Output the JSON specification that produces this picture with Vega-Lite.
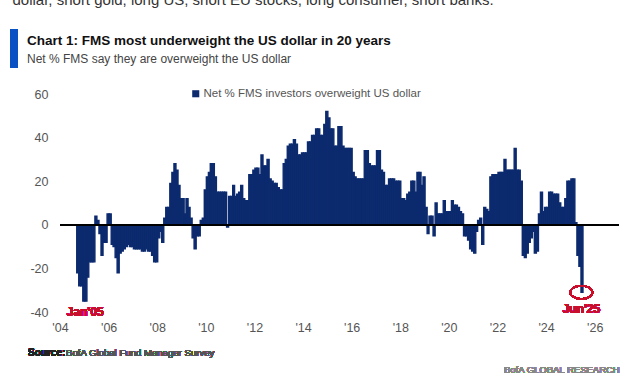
{
  "$schema": "https://vega.github.io/schema/vega-lite/v6.json",
  "width": 559,
  "height": 218,
  "autosize": {"type": "none"},
  "padding": {"left": 60, "top": 94, "right": 21, "bottom": 67},
  "background": "white",
  "config": {"view": {"stroke": null}, "font": "Liberation Sans"},
  "title": {
    "text": "Chart 1: FMS most underweight the US dollar in 20 years",
    "subtitle": "Net % FMS say they are overweight the US dollar",
    "anchor": "start",
    "frame": "group",
    "dx": -33,
    "offset": -73,
    "font": "Liberation Sans",
    "fontSize": 13.5,
    "fontWeight": "bold",
    "color": "#111111",
    "subtitleFont": "Liberation Sans",
    "subtitleFontSize": 12,
    "subtitleColor": "#444444",
    "subtitlePadding": 7
  },
  "data": {"values": [
    {"date":"2004-09-01","value":-22},{"date":"2004-10-01","value":-28},{"date":"2004-11-01","value":-28},{"date":"2004-12-01","value":-35},
    {"date":"2005-01-01","value":-35},{"date":"2005-02-01","value":-24},{"date":"2005-03-01","value":-17},{"date":"2005-04-01","value":-17},{"date":"2005-05-01","value":-17},{"date":"2005-06-01","value":4},{"date":"2005-07-01","value":2},{"date":"2005-08-01","value":-4},{"date":"2005-09-01","value":-14},{"date":"2005-10-01","value":-8},{"date":"2005-11-01","value":-8},{"date":"2005-12-01","value":5},
    {"date":"2006-01-01","value":5},{"date":"2006-02-01","value":-9},{"date":"2006-03-01","value":-10},{"date":"2006-04-01","value":-15},{"date":"2006-05-01","value":-22},{"date":"2006-06-01","value":-13},{"date":"2006-07-01","value":-12},{"date":"2006-08-01","value":-11},{"date":"2006-09-01","value":-10},{"date":"2006-10-01","value":-9},{"date":"2006-11-01","value":-10},{"date":"2006-12-01","value":-10},
    {"date":"2007-01-01","value":-11},{"date":"2007-02-01","value":-11},{"date":"2007-03-01","value":-11},{"date":"2007-04-01","value":-11},{"date":"2007-05-01","value":-12},{"date":"2007-06-01","value":-12},{"date":"2007-07-01","value":-11},{"date":"2007-08-01","value":-12},{"date":"2007-09-01","value":-12},{"date":"2007-10-01","value":-14},{"date":"2007-11-01","value":-17},{"date":"2007-12-01","value":-17},
    {"date":"2008-01-01","value":-6},{"date":"2008-02-01","value":-3},{"date":"2008-03-01","value":-8},{"date":"2008-04-01","value":3},{"date":"2008-05-01","value":8},{"date":"2008-06-01","value":8},{"date":"2008-07-01","value":19},{"date":"2008-08-01","value":24},{"date":"2008-09-01","value":28},{"date":"2008-10-01","value":25},{"date":"2008-11-01","value":18},{"date":"2008-12-01","value":12},
    {"date":"2009-01-01","value":12},{"date":"2009-02-01","value":5},{"date":"2009-03-01","value":12},{"date":"2009-04-01","value":8},{"date":"2009-05-01","value":3},{"date":"2009-06-01","value":-6},{"date":"2009-07-01","value":-11},{"date":"2009-08-01","value":-5},{"date":"2009-09-01","value":-5},{"date":"2009-10-01","value":2},{"date":"2009-11-01","value":3},{"date":"2009-12-01","value":16},
    {"date":"2010-01-01","value":22},{"date":"2010-02-01","value":24},{"date":"2010-03-01","value":28},{"date":"2010-04-01","value":28},{"date":"2010-05-01","value":22},{"date":"2010-06-01","value":15},{"date":"2010-07-01","value":15},{"date":"2010-08-01","value":15},{"date":"2010-09-01","value":15},{"date":"2010-10-01","value":15},{"date":"2010-11-01","value":-1},{"date":"2010-12-01","value":13},
    {"date":"2011-01-01","value":13},{"date":"2011-02-01","value":18},{"date":"2011-03-01","value":13},{"date":"2011-04-01","value":14},{"date":"2011-05-01","value":15},{"date":"2011-06-01","value":18},{"date":"2011-07-01","value":12},{"date":"2011-08-01","value":11},{"date":"2011-09-01","value":11},{"date":"2011-10-01","value":23},{"date":"2011-11-01","value":23},{"date":"2011-12-01","value":25},
    {"date":"2012-01-01","value":26},{"date":"2012-02-01","value":26},{"date":"2012-03-01","value":23},{"date":"2012-04-01","value":32},{"date":"2012-05-01","value":27},{"date":"2012-06-01","value":27},{"date":"2012-07-01","value":30},{"date":"2012-08-01","value":21},{"date":"2012-09-01","value":20},{"date":"2012-10-01","value":19},{"date":"2012-11-01","value":19},{"date":"2012-12-01","value":17},
    {"date":"2013-01-01","value":16},{"date":"2013-02-01","value":16},{"date":"2013-03-01","value":28},{"date":"2013-04-01","value":30},{"date":"2013-05-01","value":36},{"date":"2013-06-01","value":37},{"date":"2013-07-01","value":37},{"date":"2013-08-01","value":39},{"date":"2013-09-01","value":37},{"date":"2013-10-01","value":32},{"date":"2013-11-01","value":32},{"date":"2013-12-01","value":33},
    {"date":"2014-01-01","value":33},{"date":"2014-02-01","value":33},{"date":"2014-03-01","value":38},{"date":"2014-04-01","value":38},{"date":"2014-05-01","value":41},{"date":"2014-06-01","value":41},{"date":"2014-07-01","value":44},{"date":"2014-08-01","value":44},{"date":"2014-09-01","value":41},{"date":"2014-10-01","value":41},{"date":"2014-11-01","value":46},{"date":"2014-12-01","value":52},
    {"date":"2015-01-01","value":49},{"date":"2015-02-01","value":44},{"date":"2015-03-01","value":44},{"date":"2015-04-01","value":36},{"date":"2015-05-01","value":36},{"date":"2015-06-01","value":45},{"date":"2015-07-01","value":45},{"date":"2015-08-01","value":36},{"date":"2015-09-01","value":35},{"date":"2015-10-01","value":35},{"date":"2015-11-01","value":35},{"date":"2015-12-01","value":35},
    {"date":"2016-01-01","value":24},{"date":"2016-02-01","value":22},{"date":"2016-03-01","value":21},{"date":"2016-04-01","value":21},{"date":"2016-05-01","value":21},{"date":"2016-06-01","value":21},{"date":"2016-07-01","value":34},{"date":"2016-08-01","value":34},{"date":"2016-09-01","value":28},{"date":"2016-10-01","value":27},{"date":"2016-11-01","value":27},{"date":"2016-12-01","value":27},
    {"date":"2017-01-01","value":34},{"date":"2017-02-01","value":34},{"date":"2017-03-01","value":25},{"date":"2017-04-01","value":24},{"date":"2017-05-01","value":18},{"date":"2017-06-01","value":18},{"date":"2017-07-01","value":21},{"date":"2017-08-01","value":21},{"date":"2017-09-01","value":21},{"date":"2017-10-01","value":20},{"date":"2017-11-01","value":20},{"date":"2017-12-01","value":20},
    {"date":"2018-01-01","value":12},{"date":"2018-02-01","value":12},{"date":"2018-03-01","value":11},{"date":"2018-04-01","value":14},{"date":"2018-05-01","value":15},{"date":"2018-06-01","value":20},{"date":"2018-07-01","value":20},{"date":"2018-08-01","value":15},{"date":"2018-09-01","value":24},{"date":"2018-10-01","value":24},{"date":"2018-11-01","value":18},{"date":"2018-12-01","value":22},
    {"date":"2019-01-01","value":8},{"date":"2019-02-01","value":-4},{"date":"2019-03-01","value":4},{"date":"2019-04-01","value":4},{"date":"2019-05-01","value":-5},{"date":"2019-06-01","value":10},{"date":"2019-07-01","value":5},{"date":"2019-08-01","value":5},{"date":"2019-09-01","value":5},{"date":"2019-10-01","value":11},{"date":"2019-11-01","value":6},{"date":"2019-12-01","value":6},
    {"date":"2020-01-01","value":6},{"date":"2020-02-01","value":11},{"date":"2020-03-01","value":9},{"date":"2020-04-01","value":9},{"date":"2020-05-01","value":8},{"date":"2020-06-01","value":6},{"date":"2020-07-01","value":5},{"date":"2020-08-01","value":-5},{"date":"2020-09-01","value":-5},{"date":"2020-10-01","value":-7},{"date":"2020-11-01","value":-11},{"date":"2020-12-01","value":-12},
    {"date":"2021-01-01","value":-13},{"date":"2021-02-01","value":-3},{"date":"2021-03-01","value":2},{"date":"2021-04-01","value":3},{"date":"2021-05-01","value":-9},{"date":"2021-06-01","value":8},{"date":"2021-07-01","value":7},{"date":"2021-08-01","value":6},{"date":"2021-09-01","value":22},{"date":"2021-10-01","value":23},{"date":"2021-11-01","value":23},{"date":"2021-12-01","value":23},
    {"date":"2022-01-01","value":24},{"date":"2022-02-01","value":24},{"date":"2022-03-01","value":24},{"date":"2022-04-01","value":30},{"date":"2022-05-01","value":25},{"date":"2022-06-01","value":25},{"date":"2022-07-01","value":25},{"date":"2022-08-01","value":25},{"date":"2022-09-01","value":35},{"date":"2022-10-01","value":25},{"date":"2022-11-01","value":25},{"date":"2022-12-01","value":20},
    {"date":"2023-01-01","value":-14},{"date":"2023-02-01","value":-15},{"date":"2023-03-01","value":-13},{"date":"2023-04-01","value":-8},{"date":"2023-05-01","value":-6},{"date":"2023-06-01","value":-3},{"date":"2023-07-01","value":-13},{"date":"2023-08-01","value":-12},{"date":"2023-09-01","value":5},{"date":"2023-10-01","value":15},{"date":"2023-11-01","value":6},{"date":"2023-12-01","value":8},
    {"date":"2024-01-01","value":8},{"date":"2024-02-01","value":15},{"date":"2024-03-01","value":15},{"date":"2024-04-01","value":14},{"date":"2024-05-01","value":14},{"date":"2024-06-01","value":14},{"date":"2024-07-01","value":10},{"date":"2024-08-01","value":8},{"date":"2024-09-01","value":8},{"date":"2024-10-01","value":12},{"date":"2024-11-01","value":20},{"date":"2024-12-01","value":20},
    {"date":"2025-01-01","value":21},{"date":"2025-02-01","value":21},{"date":"2025-03-01","value":1},{"date":"2025-04-01","value":-14},{"date":"2025-05-01","value":-19},{"date":"2025-06-01","value":-31}
  ]},
  "layer": [
    {
      "mark": {"type": "bar", "stroke": "#0c2a6e", "strokeWidth": 1.4, "binSpacing": 0, "timeUnitBandSize": 1, "timeUnitBandPosition": 0},
      "encoding": {
        "x": {
          "field": "date", "type": "temporal", "timeUnit": "yearmonth",
          "scale": {"domain": [{"year": 2004, "month": 1, "date": 1}, {"year": 2027, "month": 1, "date": 1}]},
          "axis": {
            "values": [{"year": 2004}, {"year": 2006}, {"year": 2008}, {"year": 2010}, {"year": 2012}, {"year": 2014}, {"year": 2016}, {"year": 2018}, {"year": 2020}, {"year": 2022}, {"year": 2024}, {"year": 2026}],
            "format": "'%y", "labelFont": "Liberation Sans", "labelFontSize": 12.5, "labelColor": "#555555",
            "domain": false, "ticks": false, "grid": false, "labelPadding": 9, "title": null,
            "labelFlush": false, "labelOverlap": false
          }
        },
        "y": {
          "field": "value", "type": "quantitative", "stack": null,
          "scale": {"domain": [-40, 60], "nice": false, "zero": false},
          "axis": {
            "values": [-40, -30, -20, -10, 0, 10, 20, 30, 40, 50, 60],
            "labelExpr": "'' + datum.value",
            "labelFont": "Liberation Sans", "labelFontSize": 12.5, "labelColor": "#555555",
            "domain": false, "ticks": false, "grid": false, "labelPadding": 12,
            "title": "dollar, short gold, long US, short EU stocks, long consumer, short banks.",
            "titleAngle": 0, "titleAlign": "left", "titleBaseline": "alphabetic",
            "titleX": -48, "titleY": -90, "titleFont": "Liberation Sans", "titleFontSize": 15,
            "titleFontWeight": "normal", "titleColor": "#333333"
          }
        },
        "color": {
          "datum": "Net % FMS investors overweight US dollar",
          "scale": {"range": ["#0c2a6e"]},
          "legend": {
            "orient": "none", "legendX": 130, "legendY": -6, "title": null,
            "symbolType": "square", "symbolSize": 50, "symbolStrokeWidth": 0,
            "labelFont": "Liberation Sans", "labelFontSize": 11.5, "labelColor": "#555555",
            "labelOffset": 2, "padding": 0, "labelLimit": 400
          }
        }
      }
    },
    {
      "mark": {"type": "rule", "color": "#000000", "strokeWidth": 1},
      "encoding": {"y": {"datum": 0}}
    },
    {
      "mark": {"type": "point", "shape": "M -1 0 A 1 0.6 0 1 0 1 0 A 1 0.6 0 1 0 -1 0 Z", "size": 484, "filled": false, "stroke": "#c8102e", "strokeWidth": 1.5, "opacity": 1},
      "encoding": {"x": {"datum": {"year": 2025, "month": 6, "date": 15}, "type": "temporal"}, "y": {"datum": -31}}
    },
    {
      "mark": {"type": "text", "text": "Jan'05", "font": "Liberation Sans", "fontSize": 12, "fontWeight": "bold", "color": "#c8102e", "baseline": "alphabetic", "align": "center"},
      "encoding": {"x": {"datum": {"year": 2005, "month": 1, "date": 15}, "type": "temporal"}, "y": {"datum": -42}}
    },
    {
      "mark": {"type": "text", "text": "Jun'25", "font": "Liberation Sans", "fontSize": 12, "fontWeight": "bold", "color": "#c8102e", "baseline": "alphabetic", "align": "center"},
      "encoding": {"x": {"datum": {"year": 2025, "month": 6, "date": 15}, "type": "temporal"}, "y": {"datum": -40.5}}
    },
    {
      "mark": {"type": "rule", "color": "#0a52c4", "strokeWidth": 8},
      "encoding": {"x": {"datum": {"year": 2002, "month": 2, "date": 9}, "type": "temporal"}, "y": {"datum": 89.5}, "y2": {"datum": 72}}
    },
    {
      "mark": {"type": "text", "text": "Source:", "font": "Liberation Sans", "fontSize": 10, "fontWeight": "bold", "color": "#222222", "baseline": "alphabetic", "align": "left"},
      "encoding": {"x": {"datum": {"year": 2002, "month": 9, "date": 7}, "type": "temporal"}, "y": {"datum": -60}}
    },
    {
      "mark": {"type": "text", "text": "BofA Global Fund Manager Survey", "font": "Liberation Sans", "fontSize": 9.6, "color": "#555555", "baseline": "alphabetic", "align": "left"},
      "encoding": {"x": {"datum": {"year": 2004, "month": 4, "date": 1}, "type": "temporal"}, "y": {"datum": -60}}
    },
    {
      "mark": {"type": "text", "text": "BofA GLOBAL RESEARCH", "font": "Liberation Sans", "fontSize": 9.5, "color": "#888888", "baseline": "alphabetic", "align": "right"},
      "encoding": {"x": {"datum": {"year": 2027, "month": 1, "date": 12}, "type": "temporal"}, "y": {"datum": -68}}
    }
  ]
}
